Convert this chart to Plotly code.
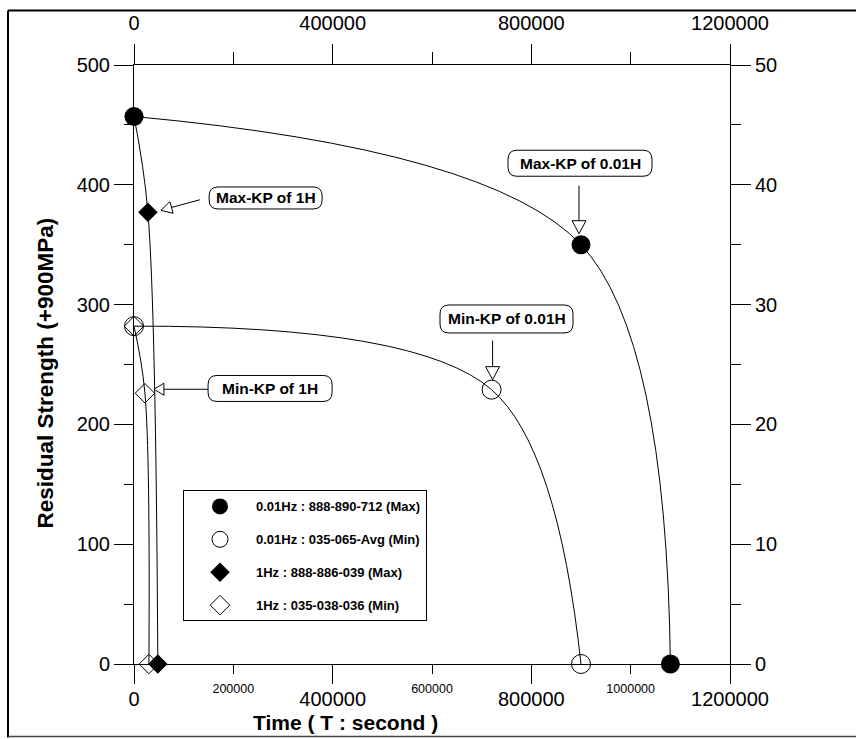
import math
import plotly.graph_objects as go

# ---- data: residual strength (+900 MPa) vs. time (s) ----
t_max_001 = [0, 900000, 1080000]
s_max_001 = [457, 350, 0]
t_min_001 = [0, 720000, 900000]
s_min_001 = [282, 229, 0]
t_max_1 = [0, 28000, 48000]
s_max_1 = [457, 377, 0]
t_min_1 = [0, 22000, 30000]
s_min_1 = [282, 226, 0]

series_names = [
    "0.01Hz : 888-890-712 (Max)",
    "0.01Hz : 035-065-Avg (Min)",
    "1Hz : 888-886-039 (Max)",
    "1Hz : 035-038-036 (Min)",
]
callout_texts = ["Max-KP of 1H", "Min-KP of 1H", "Max-KP of 0.01H", "Min-KP of 0.01H"]

x_major = [0, 400000, 800000, 1200000]
x_minor = [200000, 600000, 1000000]

# ---- layout geometry ----
W, H = 856, 739
L, R, T, B = 134, 126, 60, 75
PW, PH = W - L - R, H - T - B
SANS = "Liberation Sans, Arial"


def px(xp):
    return (xp - L) / PW


def py(yp):
    return (H - B - yp) / PH


fig = go.Figure()

series = [
    (t_max_001, s_max_001, dict(symbol="circle", size=19, color="black")),
    (t_min_001, s_min_001, dict(symbol="circle-open", size=19, color="black", line=dict(width=1))),
    (t_max_1, s_max_1, dict(symbol="diamond", size=15, color="black")),
    (t_min_1, s_min_1, dict(symbol="diamond-open", size=15, color="black", line=dict(width=1))),
]

# smooth connecting curves
for t, s, _ in series:
    fig.add_trace(go.Scatter(
        x=t, y=s, mode="lines", showlegend=False, hoverinfo="skip",
        line=dict(color="black", width=1, shape="spline"), cliponaxis=False,
    ))

# markers (legend entries)
for (t, s, mk), name in zip(series, series_names):
    fig.add_trace(go.Scatter(
        x=t, y=s, mode="markers", name=f"<b>{name}</b>", legendgroup=name,
        marker=mk, cliponaxis=False,
    ))


def arrow_path(tip, tail, head_len=13, half_w=7):
    tx, ty = tip
    ax, ay = tail
    dx, dy = tx - ax, ty - ay
    d = math.hypot(dx, dy)
    ux, uy = dx / d, dy / d
    bx, by = tx - ux * head_len, ty - uy * head_len
    nx, ny = -uy, ux
    p1 = (bx + nx * half_w, by + ny * half_w)
    p2 = (bx - nx * half_w, by - ny * half_w)
    return (f"M{ax:.1f},{ay:.1f} L{bx:.1f},{by:.1f} "
            f"M{tx:.1f},{ty:.1f} L{p1[0]:.1f},{p1[1]:.1f} L{p2[0]:.1f},{p2[1]:.1f} Z")


def rrect(w, h, r):
    x0, x1, y0, y1 = -w / 2, w / 2, -h / 2, h / 2
    return (f"M{x0 + r},{y0} L{x1 - r},{y0} Q{x1},{y0} {x1},{y0 + r} "
            f"L{x1},{y1 - r} Q{x1},{y1} {x1 - r},{y1} L{x0 + r},{y1} "
            f"Q{x0},{y1} {x0},{y1 - r} L{x0},{y0 + r} Q{x0},{y0} {x0 + r},{y0} Z")


shapes = []
# page frame
shapes.append(dict(type="line", xref="paper", yref="paper", x0=px(8), x1=px(856), y0=py(5), y1=py(5),
                   line=dict(color="black", width=2)))
shapes.append(dict(type="line", xref="paper", yref="paper", x0=px(8), x1=px(8), y0=py(5), y1=py(738),
                   line=dict(color="black", width=2)))
shapes.append(dict(type="line", xref="paper", yref="paper", x0=px(8), x1=px(856), y0=py(737), y1=py(737),
                   line=dict(color="#444", width=1.5)))

# callout arrows anchored on their target points (pixel offsets, y up)
arrows = [
    ((t_max_1[1], s_max_1[1]), (13, 2), (52, 12.6), 11, 6),
    ((t_min_1[1], s_min_1[1]), (9, 4), (63, 4), 10, 6),
    ((t_max_001[1], s_max_001[1]), (-2, 11), (-2, 59), 13, 7),
    ((t_min_001[1], s_min_001[1]), (1, 10), (1, 49), 13, 7),
]
for (xa, ya), tip, tail, hl, hw in arrows:
    shapes.append(dict(type="path", xref="x", yref="y", xsizemode="pixel", ysizemode="pixel",
                       xanchor=xa, yanchor=ya, path=arrow_path(tip, tail, hl, hw),
                       fillcolor="white", line=dict(color="black", width=1)))

# callout boxes: centre (data units), width, height (px)
boxes = [
    (265000, 389, 113, 22),
    (274000, 230, 124, 26),
    (898000, 418, 144, 26),
    (750000, 288, 133, 28),
]
annotations = []
for (bx, by, bw, bh), txt in zip(boxes, callout_texts):
    shapes.append(dict(type="path", xref="x", yref="y", xsizemode="pixel", ysizemode="pixel",
                       xanchor=bx, yanchor=by, path=rrect(bw, bh, 9),
                       fillcolor="white", line=dict(color="black", width=1)))
    annotations.append(dict(x=bx, y=by, xref="x", yref="y", text=f"<b>{txt}</b>", showarrow=False,
                            xanchor="center", yanchor="middle",
                            font=dict(family=SANS, size=15.5, color="black")))

# axis titles
annotations.append(dict(x=px(345), y=py(723), xref="paper", yref="paper", showarrow=False,
                        xanchor="center", yanchor="middle",
                        text="<b>Time ( T : second )</b>",
                        font=dict(family=SANS, size=21, color="black")))
annotations.append(dict(x=px(45), y=py(371), xref="paper", yref="paper", showarrow=False,
                        xanchor="center", yanchor="middle",
                        text="<b>Residual Strength (+900MPa)</b>", textangle=-90,
                        font=dict(family=SANS, size=22.5, color="black")))

common = dict(showgrid=False, zeroline=False, showline=True, linecolor="black", linewidth=1,
              ticks="outside", tickcolor="black", tickwidth=1)
major_font = dict(family=SANS, size=20, color="black")

fig.update_layout(
    width=W, height=H,
    margin=dict(l=L, r=R, t=T, b=B),
    paper_bgcolor="white", plot_bgcolor="white",
    showlegend=True,
    legend=dict(x=px(183), y=py(489), xanchor="left", yanchor="top",
                bgcolor="white", bordercolor="black", borderwidth=1,
                font=dict(family=SANS, size=13, color="black"),
                tracegroupgap=13, itemsizing="trace", itemwidth=62),
    xaxis=dict(range=[0, 1200000], tickmode="array", tickvals=x_major,
               ticktext=[str(v) for v in x_major], ticklen=19, tickfont=major_font,
               ticklabelstandoff=-2,
               minor=dict(tickmode="array", tickvals=x_minor, ticklen=9, ticks="outside",
                          tickcolor="black"),
               **common),
    xaxis2=dict(overlaying="x", side="top", range=[0, 1200000], tickmode="array", tickvals=x_major,
                ticktext=[str(v) for v in x_major], ticklen=20, tickfont=major_font,
                ticklabelstandoff=6,
                minor=dict(tickmode="array", tickvals=x_minor, ticklen=12, ticks="outside",
                           tickcolor="black"),
                **common),
    xaxis3=dict(overlaying="x", side="bottom", range=[0, 1200000], tickmode="array",
                tickvals=x_minor, ticktext=[str(v) for v in x_minor], ticks="",
                showline=False, showgrid=False, zeroline=False, ticklabelstandoff=15,
                tickfont=dict(family=SANS, size=12.5, color="black")),
    yaxis=dict(range=[0, 500], tick0=0, dtick=100, ticklen=19, tickfont=major_font,
               minor=dict(dtick=50, ticklen=9, ticks="outside", tickcolor="black"),
               **common),
    yaxis2=dict(overlaying="y", side="right", range=[0, 50], tick0=0, dtick=10, ticklen=20,
                tickfont=major_font,
                minor=dict(dtick=5, ticklen=10, ticks="outside", tickcolor="black"),
                **common),
    shapes=shapes,
    annotations=annotations,
)

# invisible traces so the extra axes are drawn
fig.add_trace(go.Scatter(x=[None], y=[None], xaxis="x2", yaxis="y2", showlegend=False, hoverinfo="skip"))
fig.add_trace(go.Scatter(x=[None], y=[None], xaxis="x3", yaxis="y", showlegend=False, hoverinfo="skip"))

fig.write_html("out.html")
